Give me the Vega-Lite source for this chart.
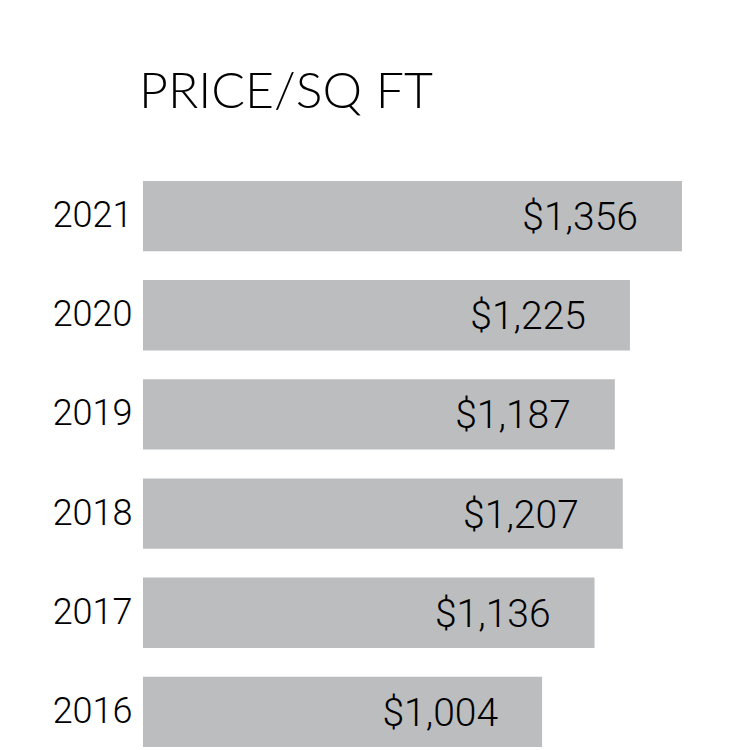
{
  "$schema": "https://vega.github.io/schema/vega-lite/v6.json",
  "autosize": {"type": "none"},
  "width": 539,
  "height": 596,
  "padding": {"left": 143, "top": 166, "right": 68, "bottom": 0},
  "background": "white",
  "title": {
    "text": "PRICE/SQ FT",
    "anchor": "start",
    "frame": "group",
    "baseline": "alphabetic",
    "offset": 8,
    "dx": -4,
    "font": "Lato",
    "fontSize": 50,
    "fontWeight": 300,
    "color": "#000000"
  },
  "data": {
    "values": [
      {"year": "2021", "price": 1356},
      {"year": "2020", "price": 1225},
      {"year": "2019", "price": 1187},
      {"year": "2018", "price": 1207},
      {"year": "2017", "price": 1136},
      {"year": "2016", "price": 1004}
    ]
  },
  "encoding": {
    "y": {
      "field": "year",
      "type": "nominal",
      "sort": null,
      "scale": {"paddingInner": 0.29, "paddingOuter": 0.15},
      "axis": {
        "title": null,
        "domain": false,
        "ticks": false,
        "labelPadding": 11,
        "labelFont": "Roboto",
        "labelFontWeight": 300,
        "labelFontSize": 36,
        "labelColor": "#000000",
        "labelBaseline": "middle"
      }
    },
    "x": {
      "field": "price",
      "type": "quantitative",
      "scale": {"domain": [0, 1356], "nice": false},
      "axis": null
    }
  },
  "layer": [
    {"mark": {"type": "bar", "color": "#bcbdbf"}},
    {
      "mark": {
        "type": "text",
        "align": "right",
        "baseline": "middle",
        "dx": -44,
        "dy": 2,
        "font": "Roboto",
        "fontWeight": 300,
        "fontSize": 39,
        "color": "#000000"
      },
      "encoding": {
        "text": {"field": "price", "type": "quantitative", "format": "$,.0f"}
      }
    }
  ],
  "config": {"view": {"stroke": null}}
}
